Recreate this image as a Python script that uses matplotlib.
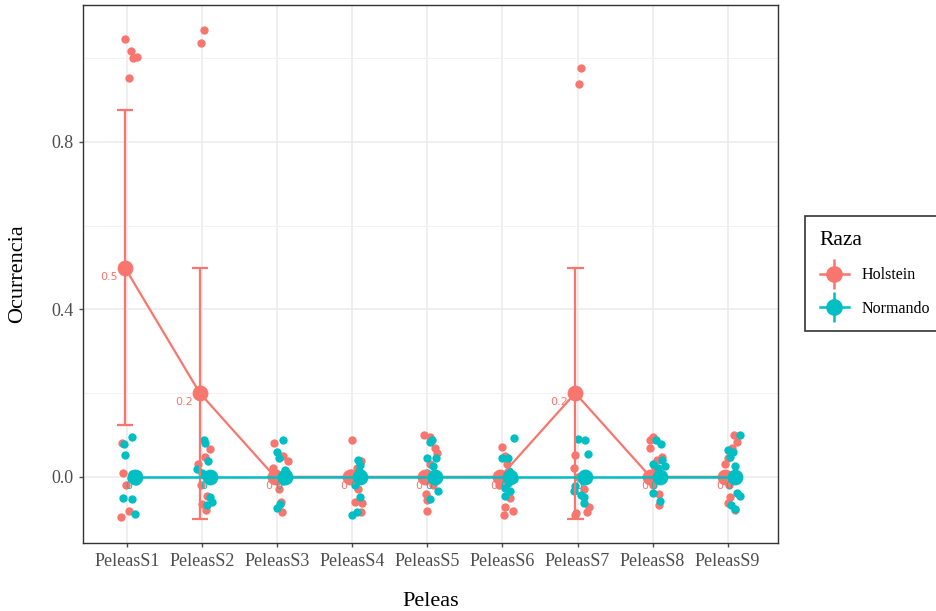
import numpy as np
import matplotlib.pyplot as plt
from matplotlib.lines import Line2D
from matplotlib.legend_handler import HandlerTuple

plt.rcParams['font.family'] = ['Liberation Serif', 'DejaVu Serif']

categories = ['PeleasS1', 'PeleasS2', 'PeleasS3', 'PeleasS4', 'PeleasS5',
              'PeleasS6', 'PeleasS7', 'PeleasS8', 'PeleasS9']
breeds = ['Holstein', 'Normando']

# means and 95% CI per session
hol_mean = [0.5, 0.2, 0, 0, 0, 0, 0.2, 0, 0]
hol_low = [0.123, -0.1, 0, 0, 0, 0, -0.1, 0, 0]
hol_high = [0.877, 0.5, 0, 0, 0, 0, 0.5, 0, 0]
nor_mean = [0, 0, 0, 0, 0, 0, 0, 0, 0]

# jittered raw observations (x offset from category, plotted y)
hol_dx = [
    [-0.03, 0.05, 0.08, 0.13, 0.02, -0.07, -0.05, -0.08, 0.02, -0.02],
    [0.02, -0.01, 0.11, 0.04, -0.05, 0.03, -0.02, 0.06, 0.0, 0.05],
    [-0.04, 0.14, -0.05, -0.07, 0.06, 0.02, -0.02, 0.05, 0.08, 0.0],
    [0.0, 0.11, -0.06, 0.04, 0.13, 0.04, 0.11, -0.02, 0.08, 0.06],
    [-0.05, 0.04, 0.13, -0.05, 0.0, 0.0, 0.07, 0.03, -0.02, 0.1],
    [0.0, 0.06, -0.03, 0.04, 0.02, 0.14, 0.08, -0.05, 0.1, 0.03],
    [0.05, 0.02, -0.03, -0.02, -0.04, 0.15, 0.13, 0.0, 0.08, -0.05],
    [0.0, -0.03, -0.03, 0.12, -0.05, 0.09, 0.03, 0.0, 0.06, 0.08],
    [0.09, 0.13, 0.0, -0.04, 0.03, 0.0, 0.06, 0.02, -0.03, 0.1],
]
hol_y = [
    [1.046, 1.017, 1.0, 1.002, 0.952, 0.080, 0.009, -0.095, -0.081, -0.02],
    [1.067, 1.036, 0.067, 0.048, 0.030, 0.005, -0.02, -0.045, -0.065, -0.08],
    [0.080, 0.038, 0.021, 0.005, -0.084, -0.03, 0.01, -0.06, 0.05, -0.01],
    [0.088, 0.037, 0.002, -0.005, -0.063, -0.059, -0.083, 0.01, -0.03, 0.02],
    [0.099, 0.096, 0.056, 0.005, -0.055, -0.081, -0.02, 0.03, -0.04, 0.07],
    [0.072, 0.030, 0.003, -0.071, -0.091, -0.081, 0.01, -0.02, -0.05, 0.05],
    [0.976, 0.938, 0.053, -0.087, -0.092, -0.073, -0.084, 0.0, -0.03, 0.02],
    [0.096, 0.088, 0.068, 0.048, 0.003, -0.067, 0.02, -0.02, 0.04, -0.04],
    [0.100, 0.083, 0.045, 0.002, -0.047, -0.063, 0.07, -0.02, 0.03, -0.08],
]
nor_dx = [
    [0.07, -0.04, -0.03, 0.06, 0.13, 0.05, 0.12, -0.06, 0.06, 0.1],
    [0.02, 0.04, 0.08, -0.07, 0.1, 0.1, 0.11, 0.13, 0.06, 0.0],
    [0.08, 0.0, 0.02, 0.11, 0.1, 0.13, 0.04, 0.0, 0.13, 0.08],
    [0.08, 0.1, 0.11, 0.06, 0.1, 0.06, 0.0, 0.12, 0.03, 0.09],
    [0.06, 0.04, 0.0, 0.12, 0.08, 0.11, 0.14, 0.04, -0.01, 0.1],
    [0.15, 0.0, 0.07, 0.09, 0.12, 0.04, 0.04, 0.15, 0.08, 0.1],
    [0.0, 0.1, 0.14, -0.03, -0.05, 0.05, 0.09, 0.08, 0.12, 0.07],
    [0.04, 0.11, 0.12, 0.0, 0.16, 0.07, 0.05, 0.0, 0.1, 0.08],
    [0.16, 0.01, 0.07, 0.03, 0.1, 0.07, 0.12, 0.17, 0.04, 0.1],
]
nor_y = [
    [0.094, 0.078, 0.053, 0.006, 0.006, -0.003, -0.010, -0.051, -0.053, -0.089],
    [0.088, 0.080, 0.038, 0.018, 0.002, -0.004, -0.049, -0.061, -0.068, 0.01],
    [0.088, 0.060, 0.046, 0.017, 0.003, -0.004, -0.065, -0.075, 0.01, -0.01],
    [0.041, 0.029, 0.002, -0.004, -0.047, -0.083, -0.092, 0.01, -0.02, 0.015],
    [0.088, 0.083, 0.045, 0.046, 0.025, 0.002, -0.035, -0.053, 0.01, -0.01],
    [0.092, 0.046, 0.045, 0.015, 0.002, -0.027, -0.045, -0.005, -0.015, -0.035],
    [0.091, 0.088, 0.054, -0.023, -0.035, -0.043, -0.049, -0.063, 0.002, -0.01],
    [0.088, 0.078, 0.041, 0.030, 0.025, 0.021, 0.002, -0.039, -0.057, 0.01],
    [0.100, 0.064, 0.060, 0.048, 0.027, 0.002, -0.039, -0.045, -0.067, -0.076],
]

col_hol = '#F8766D'
col_nor = '#00BFC4'
hol_shift = -0.03
nor_shift = 0.10

fig = plt.figure(figsize=(9.36, 6.11), dpi=100)
ax = fig.add_axes([0.0887, 0.1113, 0.7425, 0.8805])

x = np.arange(1, len(categories) + 1)

# raw points
for i in range(len(categories)):
    ax.scatter(x[i] + np.array(hol_dx[i]), hol_y[i], s=36, color=col_hol,
               linewidths=0, zorder=3)
for i in range(len(categories)):
    ax.scatter(x[i] + np.array(nor_dx[i]), nor_y[i], s=36, color=col_nor,
               linewidths=0, zorder=3)

# error bars, lines, means
xh = x + hol_shift
xn = x + nor_shift
ax.vlines(xh, hol_low, hol_high, color=col_hol, lw=1.6, zorder=4)
ax.hlines(hol_low, xh - 0.11, xh + 0.11, color=col_hol, lw=1.6, zorder=4)
ax.hlines(hol_high, xh - 0.11, xh + 0.11, color=col_hol, lw=1.6, zorder=4)
ax.plot(xh, hol_mean, color=col_hol, lw=1.6, zorder=4)
ax.scatter(xh, hol_mean, s=130, color=col_hol, linewidths=0, zorder=5)
ax.plot(xn, nor_mean, color=col_nor, lw=1.8, zorder=6)
ax.scatter(xn, nor_mean, s=130, color=col_nor, linewidths=0, zorder=6)

# value labels
def lab(v):
    return '0' if v == 0 else ('%g' % v)

for xi, v in zip(xh, hol_mean):
    t = lab(v)
    w = 5.0 if len(t) == 1 else 14.0
    ax.annotate(t, (xi, v), xytext=(-0.5 * w, -4), textcoords='offset pixels',
                ha='right', va='top', fontsize=8, color=col_hol,
                family='DejaVu Sans', zorder=7)
for xi, v in zip(xn, nor_mean):
    t = lab(v)
    w = 5.0 if len(t) == 1 else 14.0
    ax.annotate(t, (xi, v), xytext=(-0.5 * w, -4), textcoords='offset pixels',
                ha='right', va='top', fontsize=8, color=col_nor,
                family='DejaVu Sans', zorder=7)

ax.set_xlim(0.414, 9.67)
ax.set_ylim(-0.158, 1.127)
ax.set_xticks(x)
ax.set_xticklabels(categories)
ax.set_yticks([0.0, 0.4, 0.8])
ax.set_yticklabels(['0.0', '0.4', '0.8'])
ax.set_yticks([0.2, 0.6, 1.0], minor=True)
ax.tick_params(axis='both', which='major', labelsize=13, colors='#4D4D4D',
               length=3, width=1, pad=4)
ax.tick_params(axis='y', which='minor', length=0)
ax.grid(True, which='major', color='#EBEBEB', lw=1.1, zorder=0)
ax.grid(True, which='minor', axis='y', color='#F2F2F2', lw=0.7, zorder=0)
ax.set_axisbelow(True)
for sp in ax.spines.values():
    sp.set_color('#333333')
    sp.set_linewidth(1.0)

ax.set_xlabel('Peleas', fontsize=16, labelpad=16)
ax.set_ylabel('Ocurrencia', fontsize=16, labelpad=17)

h_hol = (Line2D([], [], color=col_hol, lw=1.8, marker='o', markersize=11),
         Line2D([], [], color=col_hol, lw=0, marker='|', markersize=22,
                markeredgewidth=1.8))
h_nor = (Line2D([], [], color=col_nor, lw=1.8, marker='o', markersize=11),
         Line2D([], [], color=col_nor, lw=0, marker='|', markersize=22,
                markeredgewidth=1.8))
leg = fig.legend([h_hol, h_nor], breeds, title='Raza', loc='center left',
                 bbox_to_anchor=(0.852, 0.552), frameon=True, fancybox=False,
                 fontsize=11.5, title_fontsize=15.5, handlelength=1.8,
                 handler_map={tuple: HandlerTuple(ndivide=1)},
                 borderpad=0.9, labelspacing=1.1, handletextpad=0.8)
leg._legend_box.align = 'left'
leg.get_frame().set_edgecolor('black')
leg.get_frame().set_linewidth(1.2)

fig.savefig('out.png', dpi=100)
